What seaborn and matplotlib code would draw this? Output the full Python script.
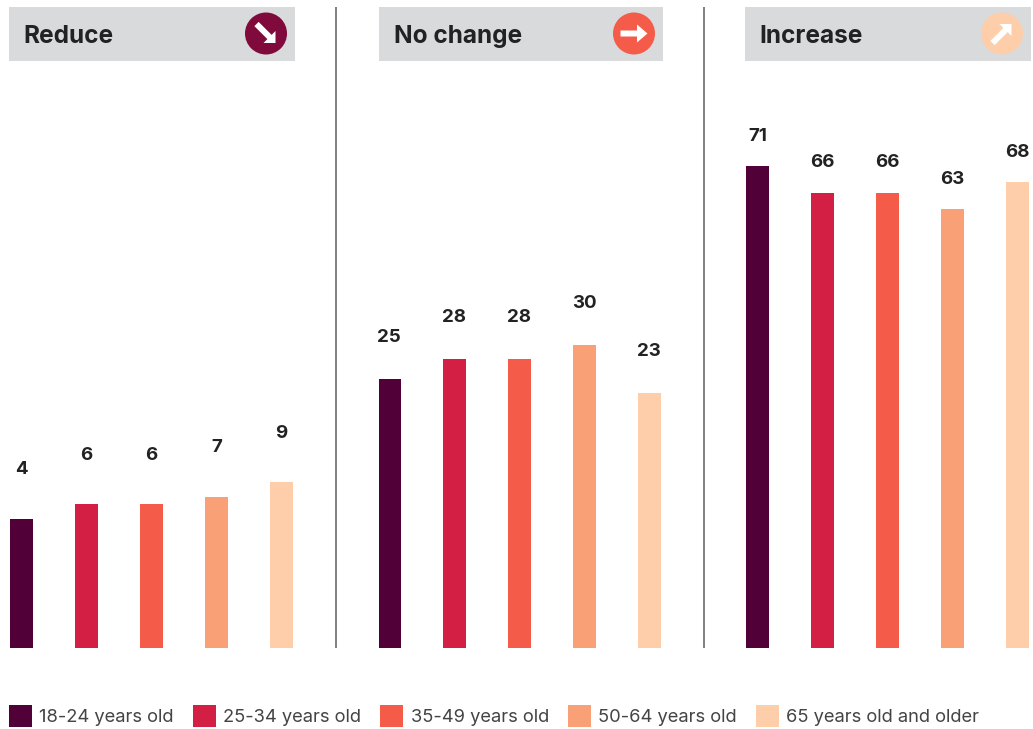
import matplotlib
matplotlib.use("Agg")
import matplotlib.pyplot as plt
from matplotlib.patches import Patch, Rectangle, Circle
import pandas as pd
import seaborn as sns

age_groups = ["18-24 years old", "25-34 years old", "35-49 years old",
              "50-64 years old", "65 years old and older"]
reduce_values = [4, 6, 6, 7, 9]
no_change_values = [25, 28, 28, 30, 23]
increase_values = [71, 66, 66, 63, 68]
panel_titles = ["Reduce", "No change", "Increase"]

bar_colors = ["#520038", "#D41F45", "#F45B49", "#F9A077", "#FECDA9"]
badge_colors = ["#7F0A3B", "#F45B49", "#FECDA9"]
header_gray = "#D9DADC"
ink = "#222222"

W, H = 1033, 729
FONT = "Inter"
sns.set_theme(style="white")
plt.rcParams["font.family"] = [FONT, "DejaVu Sans"]

fig = plt.figure(figsize=(W / 100, H / 100), dpi=100, facecolor="white")


def px_axes(left, top, right, bottom):
    return fig.add_axes([left / W, 1 - bottom / H, (right - left) / W, (bottom - top) / H])


# Full-figure layer in pixel units for headers, badges and dividers
overlay = px_axes(0, 0, W, H)
overlay.set_xlim(0, W)
overlay.set_ylim(H, 0)
overlay.axis("off")

# left, right, first-bar centre, px per unit, label lift, arrow direction
panel_layout = [
    (9, 295, 21.5, 7.3, 49, (1, 1)),
    (379, 663, 389.0, 6.75, 41.5, (1, 0)),
    (745, 1031, 757.5, 5.38, 30, (1, -1)),
]
panel_values = [reduce_values, no_change_values, increase_values]
BASE_PX = 100
STEP = 65
BAR_PX = 23
TOP, BOTTOM = 70, 648

for title, values, layout, badge in zip(panel_titles, panel_values, panel_layout, badge_colors):
    left, right, first, scale, lift, direction = layout
    ax = px_axes(left, TOP, right, BOTTOM)
    frame = pd.DataFrame({"age": age_groups, "value": values})
    sns.barplot(data=frame, x="age", y="value", hue="age", order=age_groups,
                hue_order=age_groups, palette=bar_colors, width=BAR_PX / STEP,
                legend=False, ax=ax, saturation=1, linewidth=0)
    floor = -BASE_PX / scale
    bars = sorted(ax.patches, key=lambda p: p.get_x())
    for bar, value in zip(bars, values):
        bar.set_y(floor)
        bar.set_height(value - floor)
        ax.annotate(str(value), (bar.get_x() + bar.get_width() / 2, value),
                    xytext=(0, lift * 0.72), textcoords="offset points",
                    ha="center", va="center", fontsize=13.5, fontweight="bold",
                    color=ink, annotation_clip=False)
    ax.set_xlim((left - first) / STEP, (right - first) / STEP)
    ax.set_ylim(floor, (BOTTOM - TOP - BASE_PX) / scale)
    ax.axis("off")

    # Header strip with title and arrow badge
    overlay.add_patch(Rectangle((left, 7), right - left, 54, color=header_gray, lw=0))
    overlay.text(left + 14.5, 36.2, title, fontsize=17.6, fontweight="bold", color=ink,
                 ha="left", va="center")
    cx, cy = right - 29, 33.5
    overlay.add_patch(Circle((cx, cy), 21, color=badge, lw=0, zorder=3))
    dx, dy = direction
    reach = 13.5 if dy == 0 else 9.5
    head_w, head_l = (18, 10.5) if dy == 0 else (17, 8.5)
    overlay.arrow(cx - dx * reach, cy - dy * reach, 2 * dx * reach, 2 * dy * reach,
                  width=6, head_width=head_w, head_length=head_l,
                  length_includes_head=True, color="white", lw=0, zorder=4)

# Panel dividers
for x in (336, 704):
    overlay.plot([x, x], [7, 648], color="#808080", lw=1.4, solid_capstyle="butt")

# Shared legend
handles = [Patch(facecolor=c, edgecolor="none", label=a) for c, a in zip(bar_colors, age_groups)]
fig.legend(handles=handles, ncol=5, frameon=False, fontsize=13.2, labelcolor="#444444",
           loc="center left", bbox_to_anchor=(9 / W, 1 - 716 / H),
           handlelength=1.26, handleheight=1.52, handletextpad=0.4,
           columnspacing=1.03, borderpad=0, borderaxespad=0)

fig.savefig("out.png", dpi=100)
